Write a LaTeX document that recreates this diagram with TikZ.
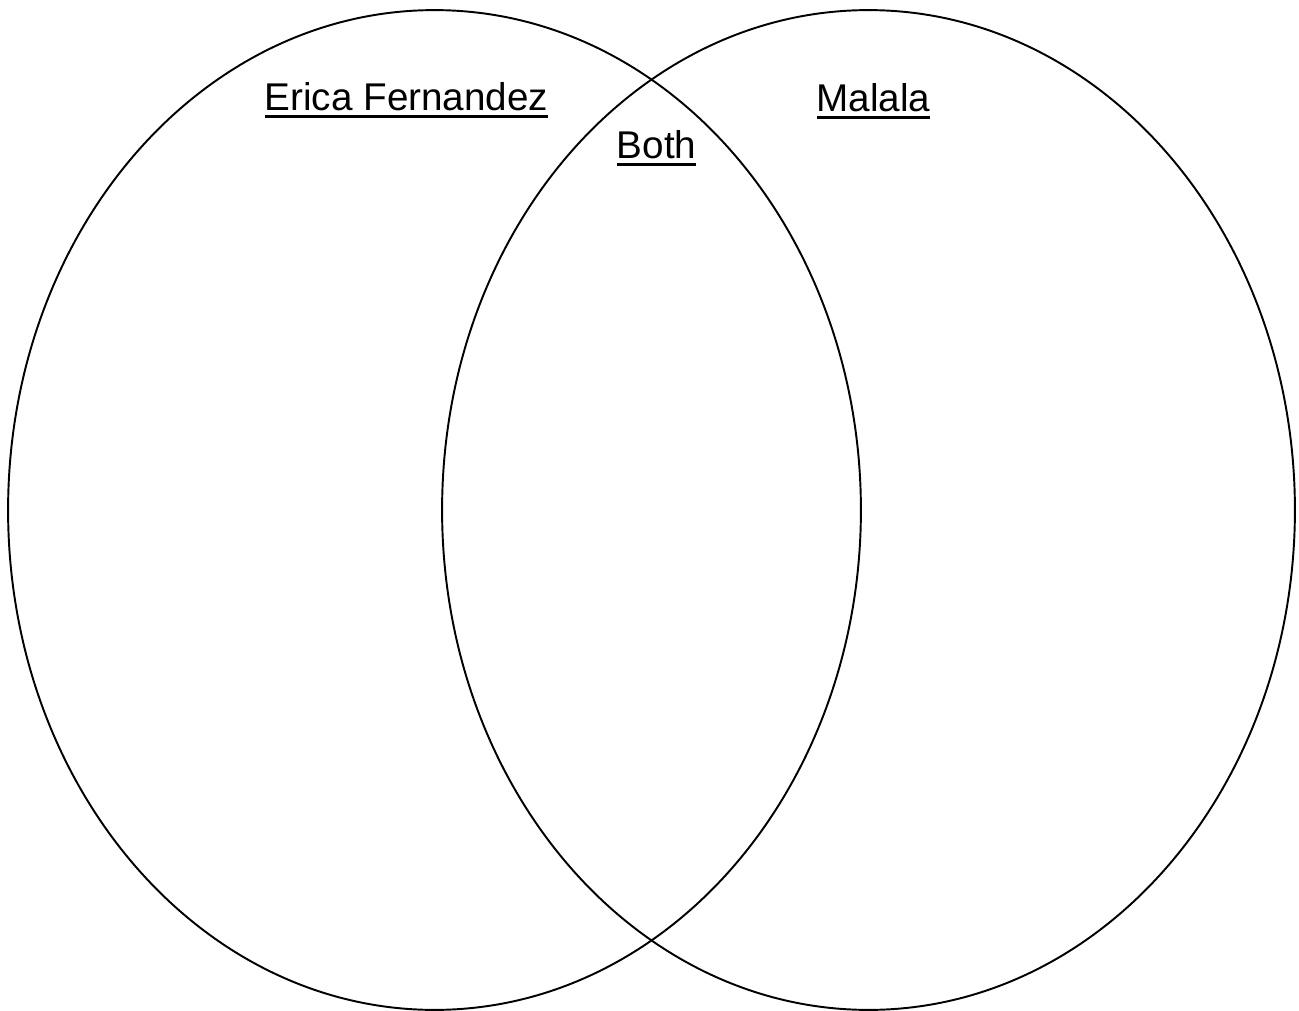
\documentclass[tikz,border=0pt]{standalone}
\usepackage{fontspec}
\setmainfont{Liberation Sans}
\usetikzlibrary{shapes.geometric}
\newcommand\heavyul[1]{\vtop{\hbox{#1}\kern2.6pt\hrule height 1.7pt}}

\begin{document}
\begin{tikzpicture}[
  x=0.02cm, y=-0.02cm,
  circ/.style={draw, ellipse, line width=1.1pt, minimum width=17.06cm, minimum height=20cm, inner sep=0pt},
  heading/.style={anchor=base, font=\fontsize{22}{26}\selectfont},
]
\useasboundingbox (0,0) rectangle (1299,1011);

\node[circ] (erica) at (434.5,510) {};
\node[circ] (malala) at (868.5,510) {};

\node[heading] (ericalabel) at (406.5,110) {\heavyul{Erica Fernandez}};
\node[heading] (malalalabel) at (873.5,111) {\heavyul{Malala}};
\node[heading] (bothlabel) at (656.5,158) {\heavyul{Both}};

\end{tikzpicture}
\end{document}
